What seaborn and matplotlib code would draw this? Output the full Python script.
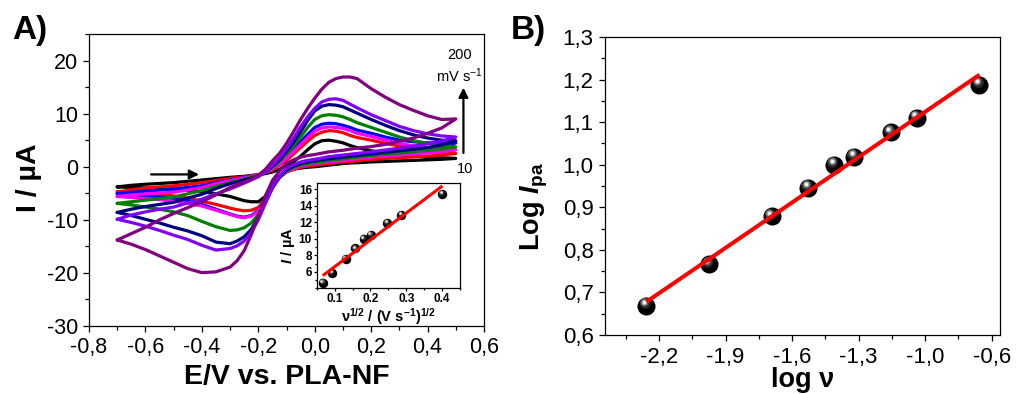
import numpy as np
import pandas as pd
import matplotlib
matplotlib.use("Agg")
import matplotlib.pyplot as plt
import matplotlib.transforms as mtransforms
from matplotlib.ticker import AutoMinorLocator, FixedLocator, FuncFormatter
import seaborn as sns

# ---------------- cyclic voltammograms (panel A) ----------------
# potential grid, V vs. PLA-NF (denser where the waves are steep)
E_GRID = [-0.70, -0.65, -0.60, -0.55, -0.50, -0.45, -0.40, -0.35, -0.30, -0.275,
          -0.25, -0.225, -0.20, -0.175, -0.15, -0.125, -0.10, -0.075, -0.05, -0.025,
          0.00, 0.025, 0.05, 0.075, 0.10, 0.125, 0.15, 0.20, 0.25, 0.30,
          0.35, 0.40, 0.45, 0.50]

# current (uA) on the anodic (forward) sweep, one list per scan rate (mV/s)
fwd_10 = [-3.8, -3.5, -3.3, -3.15, -3.0, -2.75, -2.5, -2.25, -2.0, -1.9, -1.8, -1.65, -1.5, -1.3, -1.0, -0.5, 0.3, 0.9, 2.0, 3.2, 4.3, 4.9, 5.0, 4.8, 4.5, 4.0, 3.6, 3.0, 2.6, 2.3, 2.05, 1.85, 1.7, 1.56]
fwd_20 = [-4.75, -4.35, -4.0, -3.8, -3.6, -3.3, -3.0, -2.6, -2.2, -2.05, -1.9, -1.7, -1.5, -1.1, -0.6, 0.3, 1.2, 2.4, 3.6, 4.8, 5.9, 6.5, 6.8, 6.7, 6.4, 5.9, 5.5, 5.0, 4.4, 3.9, 3.4, 3.0, 2.7, 2.5]
fwd_30 = [-5.6, -5.3, -5.1, -4.95, -4.8, -4.4, -3.9, -3.2, -2.6, -2.35, -2.1, -1.85, -1.6, -1.1, -0.4, 0.5, 1.6, 2.9, 4.2, 5.5, 6.7, 7.3, 7.5, 7.4, 7.2, 6.8, 6.3, 5.7, 5.0, 4.4, 3.9, 3.6, 3.3, 3.2]
fwd_40 = [-5.1, -4.8, -4.6, -4.4, -4.2, -3.9, -3.6, -3.0, -2.5, -2.25, -2.0, -1.8, -1.6, -1.0, -0.3, 0.7, 1.9, 3.3, 4.7, 6.1, 7.4, 8.0, 8.2, 8.1, 7.8, 7.4, 6.9, 6.3, 5.6, 5.0, 4.7, 4.5, 4.5, 4.5]
fwd_50 = [-6.9, -6.6, -6.3, -6.0, -5.7, -5.1, -4.5, -3.7, -3.0, -2.65, -2.3, -2.0, -1.7, -1.0, -0.1, 1.0, 2.4, 3.9, 5.6, 7.4, 8.9, 9.6, 9.8, 9.7, 9.4, 8.9, 8.3, 7.4, 6.5, 5.6, 4.9, 4.4, 4.0, 3.75]
fwd_75 = [-8.6, -8.0, -7.5, -7.1, -6.7, -5.9, -5.2, -4.1, -3.2, -2.85, -2.5, -2.15, -1.8, -1.0, 0.1, 1.3, 2.9, 4.6, 6.6, 8.7, 10.5, 11.4, 11.7, 11.6, 11.3, 10.7, 10.1, 8.9, 7.8, 6.8, 6.0, 5.4, 5.0, 4.9]
fwd_100 = [-9.9, -9.1, -8.5, -8.0, -7.6, -6.8, -6.1, -5.1, -4.2, -3.65, -3.1, -2.5, -1.9, -0.9, 0.3, 1.6, 3.4, 5.4, 7.5, 9.4, 11.0, 12.2, 12.7, 12.8, 12.5, 11.8, 11.1, 9.8, 8.7, 7.6, 6.8, 6.2, 5.8, 5.6]
fwd_200 = [-13.8, -12.6, -11.4, -10.0, -8.8, -7.7, -6.6, -5.3, -3.9, -3.4, -2.9, -2.3, -1.6, -0.5, 1.1, 2.5, 4.4, 6.6, 8.9, 11.0, 12.9, 14.6, 15.9, 16.6, 16.9, 16.9, 16.6, 14.7, 13.1, 11.7, 10.6, 9.6, 8.9, 9.0]

# current (uA) on the cathodic (reverse) sweep, listed on the same grid
rev_10 = [-3.8, -3.9, -4.0, -4.1, -4.2, -4.4, -4.7, -5.1, -5.6, -6.0, -6.4, -6.6, -6.6, -5.6, -3.4, -1.8, -0.8, -0.45, -0.25, -0.1, 0.0, 0.15, 0.3, 0.45, 0.6, 0.7, 0.75, 0.9, 1.0, 1.1, 1.2, 1.3, 1.4, 1.56]
rev_20 = [-4.75, -4.9, -5.1, -5.3, -5.5, -5.9, -6.5, -7.1, -7.8, -8.1, -8.3, -8.2, -7.7, -6.0, -3.6, -2.0, -1.0, -0.5, -0.1, 0.1, 0.3, 0.45, 0.6, 0.75, 0.9, 1.0, 1.1, 1.4, 1.55, 1.7, 1.85, 2.0, 2.2, 2.5]
rev_30 = [-5.6, -5.8, -6.0, -6.2, -6.5, -6.9, -7.4, -8.2, -9.0, -9.4, -9.6, -9.3, -8.3, -6.3, -3.8, -2.0, -0.9, -0.3, 0.1, 0.4, 0.6, 0.75, 0.9, 1.05, 1.2, 1.35, 1.5, 1.8, 2.0, 2.2, 2.4, 2.6, 2.8, 3.2]
rev_40 = [-5.1, -5.3, -5.5, -5.7, -6.0, -6.5, -7.1, -8.0, -8.9, -9.3, -9.5, -9.2, -8.2, -6.2, -3.7, -1.9, -0.8, -0.2, 0.2, 0.5, 0.7, 0.85, 1.0, 1.15, 1.3, 1.45, 1.6, 1.9, 2.15, 2.4, 2.7, 3.0, 3.5, 4.5]
rev_50 = [-6.9, -7.2, -7.6, -8.0, -8.5, -9.2, -10.3, -11.3, -12.0, -11.9, -11.5, -10.6, -9.0, -6.5, -3.9, -2.0, -0.8, -0.1, 0.3, 0.6, 0.8, 1.0, 1.2, 1.35, 1.5, 1.65, 1.8, 2.1, 2.35, 2.6, 2.85, 3.1, 3.35, 3.75]
rev_75 = [-8.6, -9.2, -9.9, -10.6, -11.4, -12.1, -13.0, -14.2, -14.5, -14.0, -13.2, -11.8, -9.6, -6.8, -4.0, -2.0, -0.6, 0.1, 0.6, 0.9, 1.1, 1.3, 1.5, 1.65, 1.8, 1.95, 2.1, 2.4, 2.7, 3.0, 3.3, 3.6, 4.1, 4.9]
rev_100 = [-9.9, -10.5, -11.2, -12.0, -12.9, -13.7, -14.8, -15.7, -15.4, -14.9, -14.0, -12.4, -10.0, -6.9, -3.9, -1.8, -0.3, 0.4, 0.9, 1.2, 1.4, 1.65, 1.9, 2.05, 2.2, 2.35, 2.5, 2.8, 3.15, 3.5, 3.9, 4.3, 4.8, 5.6]
rev_200 = [-13.8, -14.6, -15.6, -16.8, -18.0, -19.2, -19.95, -19.8, -18.9, -17.7, -15.8, -12.8, -9.3, -5.5, -2.6, -0.8, 0.6, 1.3, 1.8, 2.1, 2.3, 2.55, 2.8, 2.95, 3.1, 3.3, 3.5, 3.8, 4.2, 4.8, 5.4, 6.3, 7.3, 9.0]

cv_rates = [10, 20, 40, 30, 50, 75, 100, 200]          # drawing order
cv_colors = ["#000000", "#ff0000", "#0000ff", "#ff00ff",
             "#008000", "#000080", "#8000ff", "#800080"]
cv_fwd = [fwd_10, fwd_20, fwd_40, fwd_30, fwd_50, fwd_75, fwd_100, fwd_200]
cv_rev = [rev_10, rev_20, rev_40, rev_30, rev_50, rev_75, rev_100, rev_200]

# ---------------- anodic peak currents ----------------
scan_rate = [5, 10, 20, 30, 40, 50, 75, 100, 200]              # mV/s
ipa = [4.67, 5.83, 7.57, 8.83, 10.0, 10.45, 11.92, 12.89, 15.42]  # uA
sqrt_v = [0.067, 0.093, 0.131, 0.158, 0.181, 0.201, 0.246, 0.285, 0.401]

log_v = np.log10(np.array(scan_rate) / 1000.0)
log_ipa = np.log10(np.array(ipa))

# ---------------- style ----------------
sns.set_style("ticks")
plt.rcParams.update({
    "font.family": ["Liberation Sans", "DejaVu Sans"],
    "mathtext.fontset": "custom",
    "mathtext.rm": "Liberation Sans",
    "mathtext.it": "Liberation Sans:italic:bold",
    "mathtext.bf": "Liberation Sans:bold",
    "axes.unicode_minus": False,
    "axes.edgecolor": "black",
    "axes.labelcolor": "black",
    "text.color": "black",
    "axes.linewidth": 0.9,
    "xtick.color": "black",
    "ytick.color": "black",
    "xtick.labelcolor": "black",
    "ytick.labelcolor": "black",
})

fig = plt.figure(figsize=(10.16, 3.94), dpi=100)
axA = fig.add_axes([0.0876, 0.1726, 0.3888, 0.7411])
axB = fig.add_axes([0.5955, 0.1497, 0.3888, 0.7563])
axIn = fig.add_axes([0.3117, 0.2683, 0.1410, 0.2680])

comma1 = FuncFormatter(lambda v, _: f"{v:.1f}".replace(".", ","))
dot1 = FuncFormatter(lambda v, _: f"{v:.1f}")
int0 = FuncFormatter(lambda v, _: f"{v:.0f}")


def style_axis(ax, size, major, minor, pad):
    ax.tick_params(which="both", direction="out", top=False, right=False,
                   width=0.9, labelsize=size, pad=pad, colors="black")
    ax.tick_params(which="major", length=major)
    ax.tick_params(which="minor", length=minor)
    ax.xaxis.set_minor_locator(AutoMinorLocator(2))
    ax.yaxis.set_minor_locator(AutoMinorLocator(2))
    for s in ax.spines.values():
        s.set_visible(True)
        s.set_color("black")
        s.set_linewidth(0.9)


def spheres(ax, x, y, d_pt, z=3):
    # shaded balls: black body with a light highlight towards the upper left
    layers = [(1.00, "#000000", 0.00, 0.00),
              (0.62, "#242424", 0.10, 0.14),
              (0.46, "#5c5c5c", 0.13, 0.18),
              (0.32, "#a6a6a6", 0.14, 0.20),
              (0.18, "#ffffff", 0.14, 0.20)]
    for frac, col, dx, dy in layers:
        tr = mtransforms.offset_copy(ax.transData, fig=ax.figure,
                                     x=-dx * d_pt, y=dy * d_pt, units="points")
        sns.scatterplot(x=x, y=y, s=(frac * d_pt) ** 2, color=col,
                        linewidth=0, transform=tr, ax=ax, zorder=z, legend=False)


# ---------------- panel A ----------------
frames = []
n = len(E_GRID)
for rate, fwd, rev in zip(cv_rates, cv_fwd, cv_rev):
    # forward sweep to +0.5 V, then back along the reverse sweep
    frames.append(pd.DataFrame({"E": E_GRID + E_GRID[::-1],
                                "I": fwd + rev[::-1],
                                "rate": rate, "step": np.arange(2 * n)}))
cv = pd.concat(frames, ignore_index=True)

for rate, color in zip(cv_rates, cv_colors):
    sub = cv[cv["rate"] == rate]
    sns.lineplot(data=sub, x="E", y="I", sort=False, estimator=None,
                 color=color, lw=2.3, ax=axA, legend=False,
                 solid_joinstyle="round", solid_capstyle="round")

axA.set_xlim(-0.8, 0.6)
axA.set_ylim(-30, 25)
axA.xaxis.set_major_locator(FixedLocator([-0.8, -0.6, -0.4, -0.2, 0.0, 0.2, 0.4, 0.6]))
axA.yaxis.set_major_locator(FixedLocator([-30, -20, -10, 0, 10, 20]))
axA.xaxis.set_major_formatter(comma1)
axA.yaxis.set_major_formatter(int0)
style_axis(axA, 15.5, 4.5, 2.6, 3.5)
axA.set_xlabel("E/V vs. PLA-NF", fontsize=20.5, fontweight="bold")
axA.set_ylabel("I / µA", fontsize=20.5, fontweight="bold")
axA.xaxis.set_label_coords(0.5, -0.13)
axA.yaxis.set_label_coords(-0.118, 0.507)

# scan direction and scan-rate arrows
axA.annotate("", xy=(-0.41, -1.45), xytext=(-0.58, -1.45),
             arrowprops=dict(arrowstyle="-|>", color="black", lw=1.6,
                             mutation_scale=14, shrinkA=0, shrinkB=0))
axA.annotate("", xy=(0.527, 14.9), xytext=(0.527, 2.6),
             arrowprops=dict(arrowstyle="-|>", color="black", lw=1.6,
                             mutation_scale=14, shrinkA=0, shrinkB=0))
axA.text(0.512, 21.0, "200", fontsize=10.5, ha="center", va="center")
axA.text(0.512, 17.2, "mV s$^{-1}$", fontsize=10.5, ha="center", va="center")
axA.text(0.534, -0.5, "10", fontsize=10.5, ha="center", va="center")

# ---------------- inset ----------------
axIn.set_facecolor("white")
spheres(axIn, sqrt_v, ipa, 6.8)
sns.regplot(x=sqrt_v, y=ipa, scatter=False, ci=None, truncate=True, ax=axIn,
            line_kws=dict(color="#ff0000", lw=2.2, zorder=4, solid_capstyle="butt"))
axIn.set_xlim(0.05, 0.45)
axIn.set_ylim(4, 16.8)
axIn.xaxis.set_major_locator(FixedLocator([0.1, 0.2, 0.3, 0.4]))
axIn.yaxis.set_major_locator(FixedLocator([6, 8, 10, 12, 14, 16]))
axIn.xaxis.set_major_formatter(dot1)
axIn.yaxis.set_major_formatter(int0)
style_axis(axIn, 8.5, 2.2, 1.3, 1.2)
for lab in axIn.get_xticklabels() + axIn.get_yticklabels():
    lab.set_fontweight("bold")
axIn.set_xlabel(r"ν$^{\mathbf{1/2}}$ / (V s$^{\mathbf{-1}}$)$^{\mathbf{1/2}}$",
                fontsize=10.5, fontweight="bold")
axIn.set_ylabel(r"$\mathit{I}$ / µA", fontsize=10.5, fontweight="bold")
axIn.xaxis.set_label_coords(0.5, -0.165)
axIn.yaxis.set_label_coords(-0.14, 0.40)

# ---------------- panel B ----------------
spheres(axB, log_v, log_ipa, 13.0)
sns.regplot(x=log_v, y=log_ipa, scatter=False, ci=None, truncate=True, ax=axB,
            line_kws=dict(color="#ff0000", lw=2.9, zorder=4, solid_capstyle="butt"))
axB.set_xlim(-2.5, -0.6)
axB.set_ylim(0.6, 1.3)
axB.xaxis.set_major_locator(FixedLocator([-2.24, -1.92, -1.60, -1.28, -0.96, -0.64]))
axB.yaxis.set_major_locator(FixedLocator([0.6, 0.7, 0.8, 0.9, 1.0, 1.1, 1.2, 1.3]))
axB.xaxis.set_major_formatter(comma1)
axB.yaxis.set_major_formatter(comma1)
style_axis(axB, 16, 4.3, 2.6, 4.0)
axB.set_xlabel("log ν", fontsize=19.5, fontweight="bold")
axB.set_ylabel(r"Log $\mathit{I}_{\mathbf{pa}}$", fontsize=19.5, fontweight="bold")
axB.xaxis.set_label_coords(0.5, -0.108)
axB.yaxis.set_label_coords(-0.14, 0.433)

# panel letters
fig.text(12 / 1016, 1 - 39.5 / 394, "A)", fontsize=24, fontweight="bold", va="baseline")
fig.text(511 / 1016, 1 - 39.5 / 394, "B)", fontsize=24, fontweight="bold", va="baseline")

fig.savefig("out.png", dpi=100)
